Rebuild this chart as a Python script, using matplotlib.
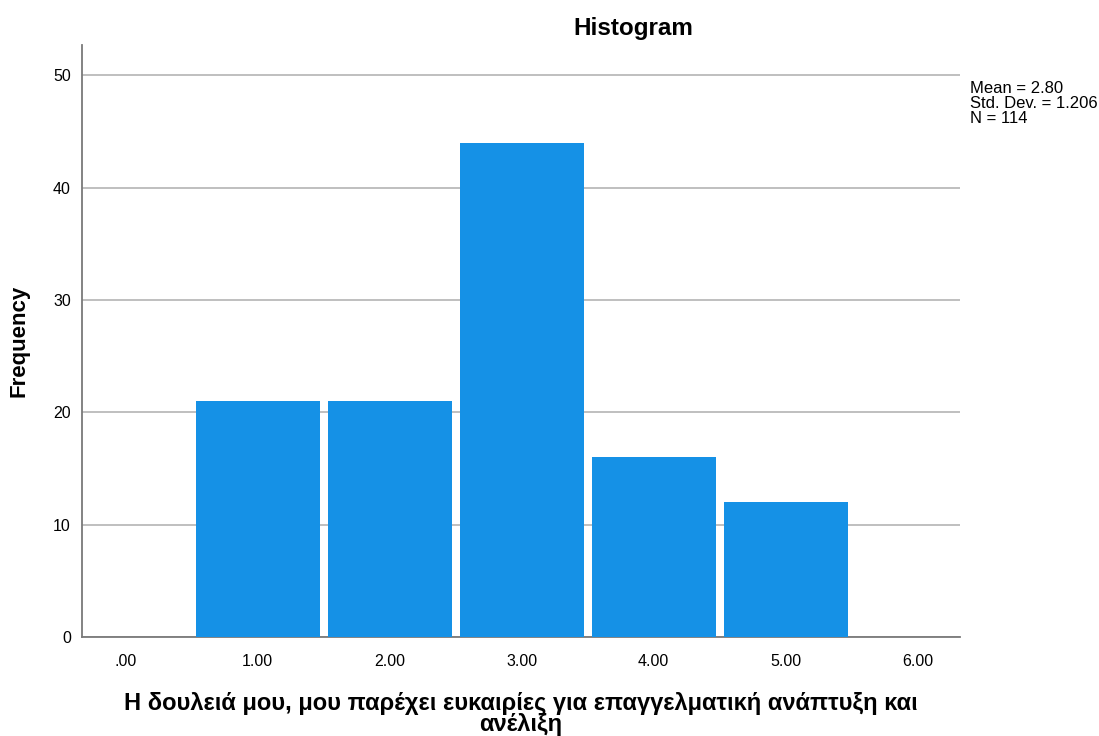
import matplotlib.pyplot as plt
import numpy as np

plt.rcParams['font.family'] = ['Liberation Sans', 'DejaVu Sans']

values = [1, 2, 3, 4, 5]
freq = [21, 21, 44, 16, 12]
xticks = [0, 1, 2, 3, 4, 5, 6]
xticklabels = ['.00', '1.00', '2.00', '3.00', '4.00', '5.00', '6.00']
yticks = [0, 10, 20, 30, 40, 50]
stats = 'Mean = 2.80\nStd. Dev. = 1.206\nN = 114'

fig = plt.figure(figsize=(10.99, 7.36), dpi=100)
ax = fig.add_axes([82/1099, 1-637/736, (960-82)/1099, (637-45)/736])

ax.bar(values, freq, width=0.94, color='#1591e6', zorder=3)
ax.set_xlim(-0.33, 6.32)
ax.set_ylim(0, 52.7)
ax.set_yticks(yticks)
ax.set_xticks(xticks)
ax.set_xticklabels(xticklabels)
ax.yaxis.grid(True, color='#b4b4b4', linewidth=1.2, zorder=0)
ax.tick_params(length=0, labelsize=11.5, pad=8)
ax.tick_params(axis='x', pad=12)
for s in ['top', 'right']:
    ax.spines[s].set_visible(False)
for s in ['left', 'bottom']:
    ax.spines[s].set_color('#7a7a7a')
    ax.spines[s].set_linewidth(1.3)

ax.set_ylabel('Frequency', fontsize=16, fontweight='bold', labelpad=17)
ax.set_xlabel('Η δουλειά μου, μου παρέχει ευκαιρίες για επαγγελματική ανάπτυξη και\nανέλιξη',
              fontsize=17, fontweight='bold', labelpad=17, linespacing=0.85)
fig.text(633/1099, 1-28/736, 'Histogram', fontsize=17.5, fontweight='bold', ha='center', va='center')
fig.text(970/1099, 1-81/736, stats, fontsize=12, va='top', ha='left', linespacing=1.0)

fig.savefig('out.png', dpi=100)
